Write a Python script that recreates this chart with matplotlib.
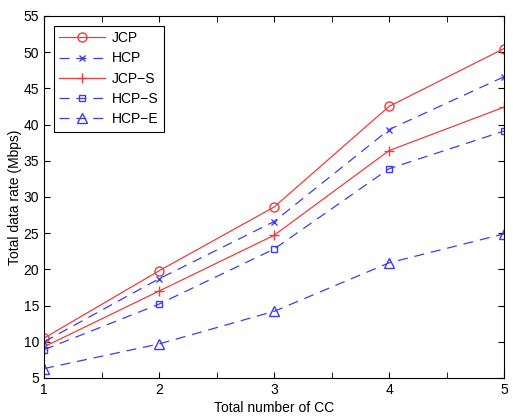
import matplotlib
matplotlib.use("Agg")
import matplotlib.pyplot as plt
from matplotlib.ticker import MultipleLocator

plt.rcParams['font.family'] = ['Liberation Sans', 'DejaVu Sans']

x = [1, 2, 3, 4, 5]
jcp = [10.5, 19.8, 28.6, 42.5, 50.5]
hcp = [10.0, 18.7, 26.6, 39.3, 46.6]
jcp_s = [9.3, 17.0, 24.7, 36.4, 42.4]
hcp_s = [8.9, 15.2, 22.8, 33.9, 39.1]
hcp_e = [6.3, 9.7, 14.2, 20.9, 24.9]

red = '#f03c3c'
blue = '#3c3cf0'
dash = (8, 5.5)

fig = plt.figure(figsize=(5.13, 4.19), dpi=100)
ax = fig.add_axes([0.0858, 0.0979, 0.8967, 0.8641])

ax.plot(x, jcp, '-', color=red, marker='o', mfc='none', ms=6.5, lw=0.9, label='JCP')
ax.plot(x, hcp, '--', color=blue, marker='x', ms=5, lw=0.9, dashes=dash, label='HCP')
ax.plot(x, jcp_s, '-', color=red, marker='+', ms=6.5, lw=0.9, label='JCP\u2212S')
ax.plot(x, hcp_s, '--', color=blue, marker='s', mfc='none', ms=5, lw=0.9, dashes=dash, label='HCP\u2212S')
ax.plot(x, hcp_e, '--', color=blue, marker='^', mfc='none', ms=6.5, lw=0.9, dashes=dash, label='HCP\u2212E')

ax.set_xlim(1, 5)
ax.set_ylim(5, 55)
ax.xaxis.set_major_locator(MultipleLocator(1))
ax.xaxis.set_minor_locator(MultipleLocator(0.5))
ax.yaxis.set_major_locator(MultipleLocator(5))
ax.tick_params(which='both', direction='in', top=True, right=True, labelsize=10)
ax.tick_params(which='major', length=4)
ax.tick_params(which='minor', length=4)
for s in ax.spines.values():
    s.set_linewidth(0.8)

ax.set_xlabel('Total number of CC', fontsize=10, labelpad=3)
ax.set_ylabel('Total data rate (Mbps)', fontsize=10, labelpad=1)

leg = ax.legend(loc='upper left', fontsize=10, fancybox=False, edgecolor='black',
                framealpha=1, handlelength=3.3, borderaxespad=0.7, labelspacing=0.45,
                borderpad=0.4, handletextpad=0.5)
leg.get_frame().set_linewidth(0.8)

fig.savefig('out.png', dpi=100)
